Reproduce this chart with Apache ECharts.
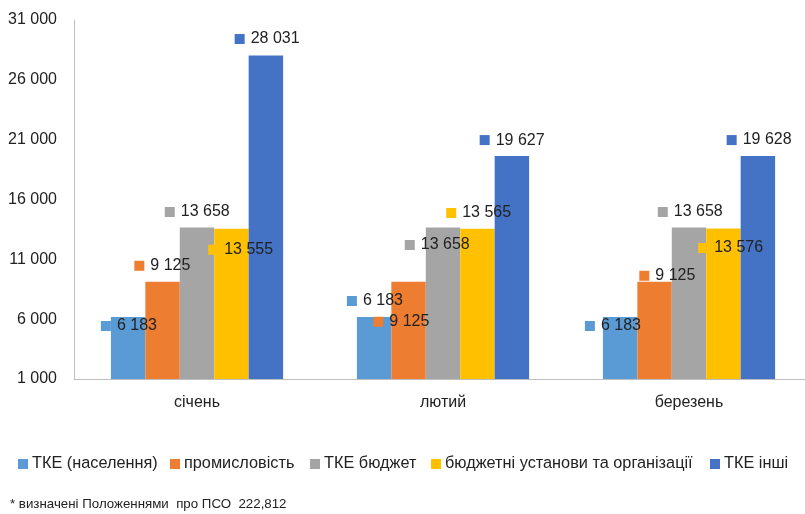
<!DOCTYPE html>
<html>
<head>
<meta charset="utf-8">
<script src="https://cdn.jsdelivr.net/npm/echarts@6/dist/echarts.min.js"></script>
<style>
html,body{margin:0;padding:0;background:#fff;}
#chart{width:805px;height:514px;}
</style>
</head>
<body>
<div id="chart"></div>
<script>
// ---- data ----
const categories = ['січень', 'лютий', 'березень'];
const seriesNames = ['ТКЕ (населення)', 'промисловість', 'ТКЕ бюджет', 'бюджетні установи та організації', 'ТКЕ інші'];
const tkeNaselennia = [6183, 6183, 6183];
const promyslovist = [9125, 9125, 9125];
const tkeBiudzhet = [13658, 13658, 13658];
const biudzhetniUstanovy = [13555, 13565, 13576];
const tkeInshi = [28031, 19627, 19628];
const yTicks = [1000, 6000, 11000, 16000, 21000, 26000, 31000];
const footnote = '* визначені Положеннями  про ПСО  222,812';

// ---- styling / layout ----
const colors = ['#5B9BD5', '#ED7D31', '#A5A5A5', '#FFC000', '#4472C4'];
// label offsets: [dx from bar left to label marker, dy from bar top to label centre]
const labelOffsets = [
  [[-10, 9], [-10, -16], [-18, 9]],
  [[-11, -16], [-18, 40], [2, -6]],
  [[-15, -15.5], [-21, 17.5], [-14, -15.5]],
  [[-6, 21], [-14, -15.6], [-8, 19.5]],
  [[-14, -16.5], [-15, -16], [-14, -16]]
];
const legendLefts = [18, 170, 310, 431, 710];
const FONT = '"Liberation Sans", Arial, sans-serif';
const TEXT = '#222222';

const allValues = [tkeNaselennia, promyslovist, tkeBiudzhet, biudzhetniUstanovy, tkeInshi];
const fmt = v => String(v).replace(/\B(?=(\d{3})+(?!\d))/g, ' ');

const series = allValues.map((vals, si) => ({
  name: seriesNames[si],
  type: 'bar',
  barGap: '0%',
  barCategoryGap: '30%',
  itemStyle: { color: colors[si] },
  emphasis: { disabled: true },
  data: vals.map((v, ci) => ({
    value: v,
    label: {
      show: true,
      position: labelOffsets[si][ci],
      align: 'left',
      verticalAlign: 'middle',
      formatter: '{s| }{v|' + fmt(v) + '}',
      rich: {
        s: { width: 10, height: 10, backgroundColor: colors[si] },
        v: { fontSize: 16, fontFamily: FONT, color: TEXT, padding: [0, 0, 0, 6] }
      }
    }
  }))
}));

const legends = seriesNames.map((n, i) => ({
  data: [n],
  left: legendLefts[i],
  top: 456,
  itemWidth: 10,
  itemHeight: 10,
  itemGap: 0,
  padding: 0,
  icon: 'rect',
  selectedMode: false,
  textStyle: { fontSize: 16.3, fontFamily: FONT, color: TEXT, padding: [0, 0, 0, -1] }
}));

const chart = echarts.init(document.getElementById('chart'), null, { renderer: 'canvas' });
chart.setOption({
  animation: false,
  color: colors,
  grid: { left: 74, top: 20, width: 738, height: 359, containLabel: false, outerBoundsMode: 'none' },
  legend: legends,
  xAxis: {
    type: 'category',
    data: categories,
    axisTick: { show: false },
    axisLine: { show: true, lineStyle: { color: '#BFBFBF', width: 1 } },
    axisLabel: { margin: 16, fontSize: 16, fontFamily: FONT, color: TEXT }
  },
  yAxis: {
    type: 'value',
    min: yTicks[0],
    max: yTicks[yTicks.length - 1],
    interval: yTicks[1] - yTicks[0],
    splitLine: { show: false },
    axisTick: { show: false },
    axisLine: { show: true, lineStyle: { color: '#BFBFBF', width: 1 } },
    axisLabel: { margin: 17, fontSize: 16, fontFamily: FONT, color: TEXT, formatter: v => fmt(v) }
  },
  graphic: [{
    type: 'text',
    left: 10,
    top: 498,
    style: { text: footnote, fontSize: 13.3, fontFamily: FONT, fill: TEXT }
  }],
  series: series
});
</script>
</body>
</html>
